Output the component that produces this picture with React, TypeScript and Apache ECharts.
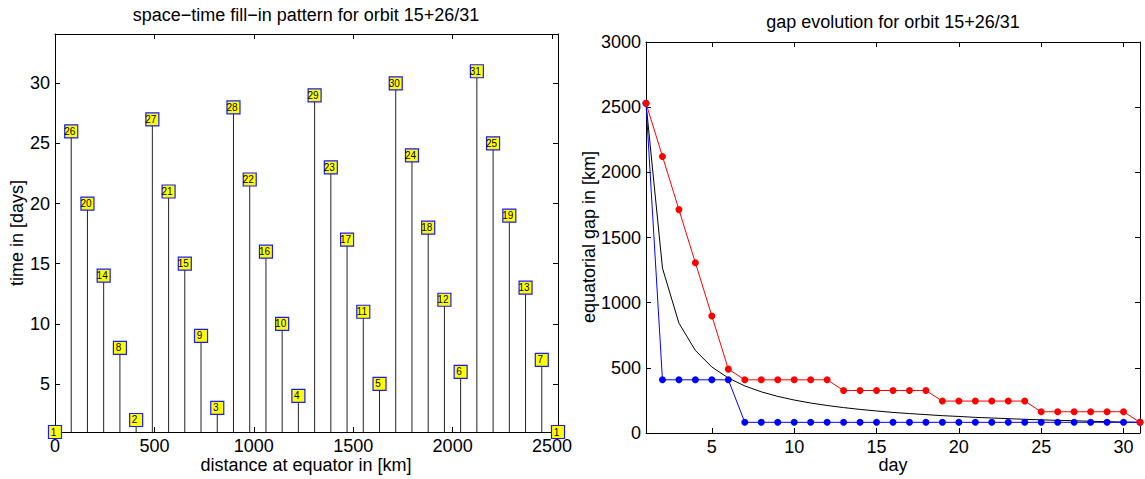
import React, { useEffect, useRef } from "react";
import * as echarts from "echarts";

// Left chart: space-time fill-in pattern
const positionsKm = [0, 81.6, 163.2, 244.8, 326.5, 408.1, 489.7, 571.3, 652.9, 734.5, 816.1, 897.7, 979.4, 1061.0, 1142.6, 1224.2, 1305.8, 1387.4, 1469.0, 1550.6, 1632.3, 1713.9, 1795.5, 1877.1, 1958.7, 2040.3, 2121.9, 2203.5, 2285.2, 2366.8, 2448.4, 2530.0];
const fillDays = [1, 26, 20, 14, 8, 2, 27, 21, 15, 9, 3, 28, 22, 16, 10, 4, 29, 23, 17, 11, 5, 30, 24, 18, 12, 6, 31, 25, 19, 13, 7, 1];
const leftXTicks = [0, 500, 1000, 1500, 2000, 2500];
const leftYTicks = [5, 10, 15, 20, 25, 30];

// Right chart: gap evolution
const days = [1, 2, 3, 4, 5, 6, 7, 8, 9, 10, 11, 12, 13, 14, 15, 16, 17, 18, 19, 20, 21, 22, 23, 24, 25, 26, 27, 28, 29, 30, 31];
const redGap = [2530, 2122, 1714, 1306, 898, 490, 408, 408, 408, 408, 408, 408, 326, 326, 326, 326, 326, 326, 245, 245, 245, 245, 245, 245, 163, 163, 163, 163, 163, 163, 82];
const blueGap = [2530, 408, 408, 408, 408, 408, 82, 82, 82, 82, 82, 82, 82, 82, 82, 82, 82, 82, 82, 82, 82, 82, 82, 82, 82, 82, 82, 82, 82, 82, 82];
const blackGap = [2530, 1265, 843, 633, 506, 422, 361, 316, 281, 253, 230, 211, 195, 181, 169, 158, 149, 141, 133, 127, 120, 115, 110, 105, 101, 97, 94, 90, 87, 84, 82];
const rightXTicks = [5, 10, 15, 20, 25, 30];

const FONT = "'Liberation Sans', Arial, Helvetica, sans-serif";
const FS = 18;

function axisBase(extra: any) {
  return {
    axisLine: { show: true, onZero: false, lineStyle: { color: "#000", width: 1 } },
    splitLine: { show: false },
    ...extra,
  };
}

export default function App() {
  const ref = useRef<HTMLDivElement>(null);
  useEffect(() => {
    document.body.style.margin = "0";
    if (!ref.current) return;
    const chart = echarts.init(ref.current, null, { renderer: "svg" });

    const tickIn = (vals: number[] | null) => ({
      show: true,
      inside: true,
      length: 5,
      lineStyle: { color: "#000" },
      ...(vals ? { customValues: vals } : {}),
    });
    const lbl = (vals: number[] | null, show = true) => ({
      show,
      color: "#000",
      fontSize: FS,
      fontFamily: FONT,
      margin: 5,
      formatter: (v: number) => String(v),
      ...(vals ? { customValues: vals } : {}),
    });

    const option: any = {
      animation: false,
      backgroundColor: "#fff",
      grid: [
        { left: 55, top: 34, width: 503, height: 398 },
        { left: 646, top: 42, width: 494, height: 391 },
      ],
      xAxis: [
        axisBase({ type: "value", gridIndex: 0, min: 0, max: 2530, position: "bottom", axisTick: tickIn(leftXTicks), axisLabel: lbl(leftXTicks) }),
        axisBase({ type: "value", gridIndex: 0, min: 0, max: 2530, position: "top", axisTick: tickIn(leftXTicks), axisLabel: lbl(null, false) }),
        axisBase({ type: "value", gridIndex: 1, min: 1, max: 31, position: "bottom", axisTick: tickIn(rightXTicks), axisLabel: lbl(rightXTicks) }),
        axisBase({ type: "value", gridIndex: 1, min: 1, max: 31, position: "top", axisTick: tickIn(rightXTicks), axisLabel: lbl(null, false) }),
      ],
      yAxis: [
        axisBase({ type: "value", gridIndex: 0, min: 1, max: 34.1, position: "left", axisTick: tickIn(leftYTicks), axisLabel: lbl(leftYTicks) }),
        axisBase({ type: "value", gridIndex: 0, min: 1, max: 34.1, position: "right", axisTick: tickIn(leftYTicks), axisLabel: lbl(null, false) }),
        axisBase({ type: "value", gridIndex: 1, min: 0, max: 3000, interval: 500, position: "left", axisTick: tickIn(null), axisLabel: lbl(null) }),
        axisBase({ type: "value", gridIndex: 1, min: 0, max: 3000, interval: 500, position: "right", axisTick: tickIn(null), axisLabel: lbl(null, false) }),
      ],
      series: [
        {
          type: "custom",
          xAxisIndex: 0,
          yAxisIndex: 0,
          clip: false,
          z: 2,
          data: positionsKm.map((x, i) => [x, fillDays[i]]),
          renderItem: (params: any, api: any) => {
            const x = api.value(0);
            const y = api.value(1);
            const p1 = api.coord([x, 1]);
            const p2 = api.coord([x, y]);
            return {
              type: "line",
              shape: { x1: p1[0], y1: p1[1], x2: p2[0], y2: p2[1] },
              style: { stroke: "#222", lineWidth: 1 },
            };
          },
        },
        {
          type: "scatter",
          xAxisIndex: 0,
          yAxisIndex: 0,
          clip: false,
          z: 3,
          symbol: "rect",
          symbolSize: 13,
          itemStyle: { color: "#ffff00", borderColor: "#1a1aff", borderWidth: 1.2, opacity: 1 },
          label: {
            show: true,
            position: "inside",
            offset: [-1.5, 0],
            color: "#000",
            fontSize: 10,
            fontFamily: FONT,
            formatter: (p: any) => String(p.value[1]),
          },
          data: positionsKm.map((x, i) => [x, fillDays[i]]),
        },
        {
          type: "line",
          xAxisIndex: 2,
          yAxisIndex: 2,
          clip: false,
          showSymbol: false,
          symbol: "none",
          lineStyle: { color: "#000", width: 1 },
          data: days.map((d, i) => [d, blackGap[i]]),
        },
        {
          type: "line",
          xAxisIndex: 2,
          yAxisIndex: 2,
          clip: false,
          symbol: "circle",
          symbolSize: 7,
          showSymbol: true,
          itemStyle: { color: "#0000ff" },
          lineStyle: { color: "#0000ff", width: 1 },
          data: days.map((d, i) => [d, blueGap[i]]),
        },
        {
          type: "line",
          xAxisIndex: 2,
          yAxisIndex: 2,
          clip: false,
          symbol: "circle",
          symbolSize: 7,
          showSymbol: true,
          itemStyle: { color: "#ff0000" },
          lineStyle: { color: "#ff0000", width: 1 },
          data: days.map((d, i) => [d, redGap[i]]),
        },
      ],
      graphic: [
        { type: "text", x: 306, y: 15, style: { text: "space\u2212time fill\u2212in pattern for orbit 15+26/31", fill: "#000", font: `${FS}px ${FONT}`, textAlign: "center", textVerticalAlign: "middle" } },
        { type: "text", x: 893, y: 22, style: { text: "gap evolution for orbit 15+26/31", fill: "#000", font: `${FS}px ${FONT}`, textAlign: "center", textVerticalAlign: "middle" } },
        { type: "text", x: 306, y: 465, style: { text: "distance at equator in [km]", fill: "#000", font: `${FS}px ${FONT}`, textAlign: "center", textVerticalAlign: "middle" } },
        { type: "text", x: 893, y: 465, style: { text: "day", fill: "#000", font: `${FS}px ${FONT}`, textAlign: "center", textVerticalAlign: "middle" } },
        { type: "text", x: 17, y: 233, rotation: Math.PI / 2, style: { text: "time in [days]", fill: "#000", font: `${FS}px ${FONT}`, textAlign: "center", textVerticalAlign: "middle" } },
        { type: "text", x: 589, y: 237, rotation: Math.PI / 2, style: { text: "equatorial gap in [km]", fill: "#000", font: `${FS}px ${FONT}`, textAlign: "center", textVerticalAlign: "middle" } },
      ],
    };
    chart.setOption(option);
    return () => chart.dispose();
  }, []);
  return <div ref={ref} style={{ width: 1145, height: 479 }} />;
}
